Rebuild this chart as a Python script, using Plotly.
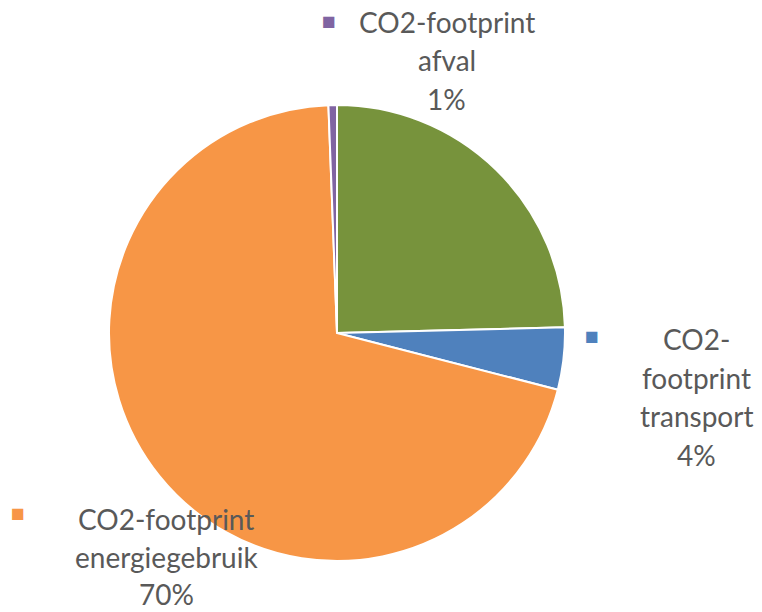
import plotly.graph_objects as go

labels = ["CO2-footprint gebouw", "CO2-footprint transport", "CO2-footprint energiegebruik", "CO2-footprint afval"]
values = [24.6, 4.4, 70.4, 0.6]
colors = ["#77933C", "#4F81BD", "#F79646", "#8064A2"]

# label text lines (without percentage) for the shown labels: index -> lines
label_lines = {
    3: ["CO2-footprint", "afval"],
    1: ["CO2-", "footprint", "transport"],
    2: ["CO2-footprint", "energiegebruik"],
}

W, H = 762, 612
fig = go.Figure(go.Pie(
    labels=labels, values=values, sort=False, direction="clockwise", rotation=0,
    marker=dict(colors=colors, line=dict(color="white", width=2)),
    textinfo="none", hoverinfo="label+percent", showlegend=False,
    domain=dict(x=[109 / W, 565 / W], y=[1 - 561 / H, 1 - 105 / H]),
))

total = sum(values)
# layout positions for each shown label (pixel coords): text center x, first line y, line gap, marker x, marker y
pos = {
    3: dict(cx=447, y0=22, gap=38.5, mx=329, my=20),
    1: dict(cx=696, y0=339, gap=38.5, mx=592, my=335),
    2: dict(cx=166, y0=519, gap=37.5, mx=18, my=512),
}
text_color = "#595959"
font_family = "Lato, 'Open Sans', sans-serif"
for i, lines in label_lines.items():
    p = pos[i]
    pct = f"{round(values[i] / total * 100)}%"
    all_lines = lines + [pct]
    for k, t in enumerate(all_lines):
        fig.add_annotation(x=p["cx"] / W, y=1 - (p["y0"] + k * p["gap"]) / H, xref="paper", yref="paper",
                           text=t, showarrow=False, xanchor="center", yanchor="middle",
                           font=dict(family=font_family, size=28, color=text_color))
    fig.add_annotation(x=p["mx"] / W, y=1 - p["my"] / H, xref="paper", yref="paper",
                       text="■", showarrow=False, xanchor="center", yanchor="middle",
                       font=dict(size=23, color=colors[i]))

fig.update_layout(width=W, height=H, margin=dict(l=0, r=0, t=0, b=0),
                  paper_bgcolor="white", plot_bgcolor="white")
fig.write_html("out.html")
